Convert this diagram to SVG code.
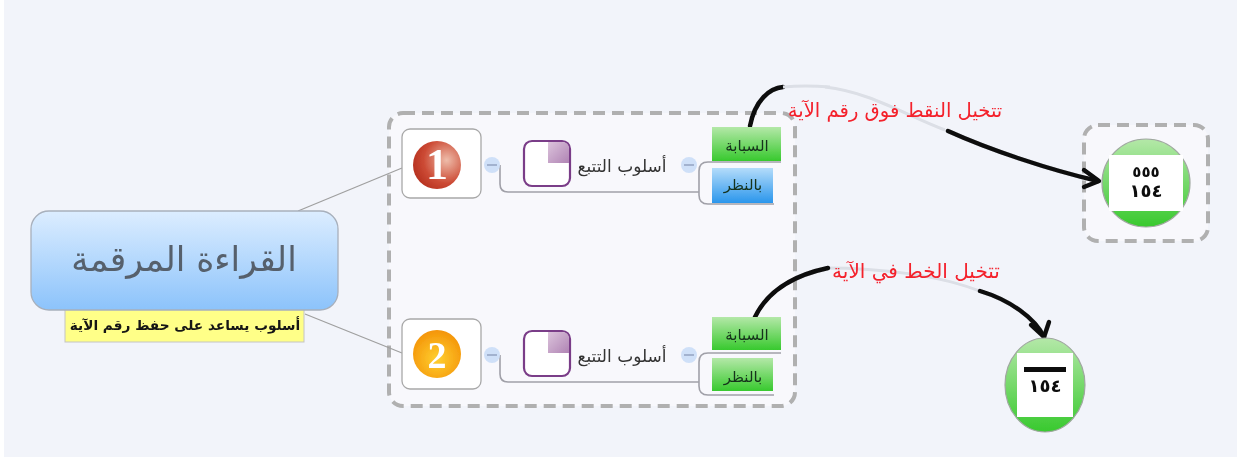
<svg xmlns="http://www.w3.org/2000/svg" width="1237" height="457" viewBox="0 0 1237 457">
<style>
text{font-family:"DejaVu Sans","Noto Sans",sans-serif;text-anchor:middle;direction:rtl}
.frame{fill:#f8f8fc;stroke:#b0b0b0;stroke-width:4;stroke-dasharray:12 7}
.box{fill:#fff;stroke:#a8a8a8;stroke-width:1.3}
.line{fill:none;stroke:#a0a0a0;stroke-width:1.3}
.bracket{fill:none;stroke:#a0a0a8;stroke-width:1.6}
.minus{fill:#cfe0f8}
.minusbar{stroke:#8a9ab8;stroke-width:1.3}
.task{fill:#fff;stroke:#7a3c88;stroke-width:2.2}
.quarter{fill:url(#purple)}
.label{font-size:17px;fill:#333}
.leaf{font-size:15px;fill:#14301a}
.red{fill:#f4202c}
.thick{fill:none;stroke:#0a0a0a;stroke-width:4.4;stroke-linecap:round;stroke-linejoin:round}
.fade{fill:none;stroke:#dcdfe6;stroke-width:3}
.num{font-weight:bold;fill:#101010;letter-spacing:8px}
.badge{font-family:"Liberation Serif",serif;direction:ltr;font-weight:bold;fill:#fff}
</style>
<defs>
<linearGradient id="central" x1="0" y1="0" x2="0" y2="1"><stop offset="0" stop-color="#dcedff"/><stop offset="1" stop-color="#8cc3fb"/></linearGradient>
<linearGradient id="green" x1="0" y1="0" x2="0" y2="1"><stop offset="0" stop-color="#b4e8a8"/><stop offset="1" stop-color="#38c92e"/></linearGradient>
<linearGradient id="blue" x1="0" y1="0" x2="0" y2="1"><stop offset="0" stop-color="#b4dcfa"/><stop offset="1" stop-color="#2a96ec"/></linearGradient>
<linearGradient id="purple" x1="0" y1="0" x2="1" y2="1"><stop offset="0" stop-color="#dcc4dc"/><stop offset="1" stop-color="#b084b4"/></linearGradient>
<radialGradient id="redb" cx="0.7" cy="0.4" r="0.8"><stop offset="0" stop-color="#eebcaa"/><stop offset="0.6" stop-color="#cc4a34"/><stop offset="1" stop-color="#b02a1a"/></radialGradient>
<radialGradient id="orangeb" cx="0.5" cy="0.6" r="0.6"><stop offset="0" stop-color="#ffd030"/><stop offset="1" stop-color="#f49408"/></radialGradient>
<filter id="soft" x="-2%" y="-2%" width="104%" height="104%"><feGaussianBlur stdDeviation="0.55"/></filter>
</defs>
<rect width="1237" height="457" fill="#fff"/>
<rect x="4" y="0" width="1233" height="457" fill="#f2f4fa"/>
<g filter="url(#soft)">
<rect id="frame1" class="frame" x="389" y="113" width="406" height="293" rx="14"/>
<rect id="frame2" class="frame" x="1084" y="125" width="124" height="116" rx="14"/>

<g id="connectors">
<path class="line" d="M298 211L402 168"/>
<path class="line" d="M305 314L402 353"/>
<path class="bracket" d="M500 165V184Q500 192 508 192H699"/>
<path class="bracket" d="M781 162H708Q699 162 699 171V195Q699 204 708 204H774"/>
<path class="bracket" d="M500 355V374Q500 382 508 382H699"/>
<path class="bracket" d="M781 353H708Q699 353 699 362V386Q699 395 708 395H774"/>
<path class="fade" d="M825 87C870 92 905 115 945 130"/>
<path class="thick" d="M750 126C755 100 770 88 783 87"/>
<path class="fade" d="M783 87Q805 85 830 87"/>
<path class="thick" d="M948 131C990 150 1050 170 1098 181"/>
<path class="thick" d="M1084 170L1099 181L1084 187"/>
<path class="fade" d="M825 268C880 268 940 275 982 292"/>
<path class="thick" d="M755 317C768 290 795 275 828 268"/>
<path class="thick" d="M980 291C1010 300 1035 318 1044 337"/>
<path class="thick" d="M1031 325L1044 337L1049 322"/>
</g>

<g id="central-topic">
<rect x="65" y="300" width="239" height="42" fill="#ffff88" stroke="#c4c4c4"/>
<text x="185" y="330" font-size="13.7" font-weight="bold" fill="#141414">أسلوب يساعد على حفظ رقم الآية</text>
<rect x="31" y="211" width="307" height="99" rx="18" fill="url(#central)" stroke="#a8b0bc" stroke-width="1.3"/>
<text x="184" y="271" font-size="34.5" fill="#56606c">القراءة المرقمة</text>
</g>

<g id="node-1">
<rect class="box" x="402" y="129" width="79" height="69" rx="8"/>
<circle cx="437" cy="165" r="24" fill="url(#redb)"/>
<text class="badge" x="437" y="179" font-size="44">1</text>
<circle class="minus" cx="492" cy="165" r="8"/><path class="minusbar" d="M487 165H497"/>
</g>
<g id="task-1">
<rect class="task" x="524" y="141" width="46" height="45" rx="8"/>
<path class="quarter" d="M548 142H562Q569 142 569 149V163H548Z"/>
<text class="label" x="622" y="172">أسلوب التتبع</text>
<circle class="minus" cx="689" cy="165" r="8"/><path class="minusbar" d="M684 165H694"/>
</g>
<g id="leaf-1a"><rect x="712" y="127" width="69" height="34" fill="url(#green)"/><text class="leaf" x="747" y="151">السبابة</text></g>
<g id="leaf-1b"><rect x="712" y="168" width="61" height="35" fill="url(#blue)"/><text class="leaf" x="743" y="190">بالنظر</text></g>

<g id="node-2">
<rect class="box" x="402" y="319" width="79" height="70" rx="8"/>
<circle cx="437" cy="354" r="24" fill="url(#orangeb)"/>
<text class="badge" x="437" y="368" font-size="38">2</text>
<circle class="minus" cx="492" cy="355" r="8"/><path class="minusbar" d="M487 355H497"/>
</g>
<g id="task-2">
<rect class="task" x="524" y="331" width="46" height="45" rx="8"/>
<path class="quarter" d="M548 332H562Q569 332 569 339V353H548Z"/>
<text class="label" x="622" y="362">أسلوب التتبع</text>
<circle class="minus" cx="689" cy="355" r="8"/><path class="minusbar" d="M684 355H694"/>
</g>
<g id="leaf-2a"><rect x="712" y="317" width="69" height="33" fill="url(#green)"/><text class="leaf" x="747" y="340">السبابة</text></g>
<g id="leaf-2b"><rect x="712" y="358" width="61" height="33" fill="url(#green)"/><text class="leaf" x="743" y="382">بالنظر</text></g>

<g id="image-1">
<circle cx="1146" cy="183" r="44" fill="url(#green)" stroke="#a0a8a0" stroke-width="1.2"/>
<rect x="1109" y="155" width="74" height="56" fill="#fff"/>
<text class="num" x="1146" y="177" font-size="15">٥٥٥</text>
<text class="num" x="1146" y="197" font-size="18">١٥٤</text>
</g>
<g id="image-2">
<ellipse cx="1045" cy="385" rx="40" ry="47" fill="url(#green)" stroke="#a0a8a0" stroke-width="1.2"/>
<rect x="1017" y="353" width="56" height="64" fill="#fff"/>
<rect x="1024" y="367" width="42" height="5" fill="#0a0a0a"/>
<text class="num" x="1045" y="392" font-size="18">١٥٤</text>
</g>

<g id="labels">
<text class="red" x="895" y="117" font-size="19.6">تتخيل النقط فوق رقم الآية</text>
<text class="red" x="916" y="278" font-size="20">تتخيل الخط في الآية</text>
</g>
</g>
</svg>
